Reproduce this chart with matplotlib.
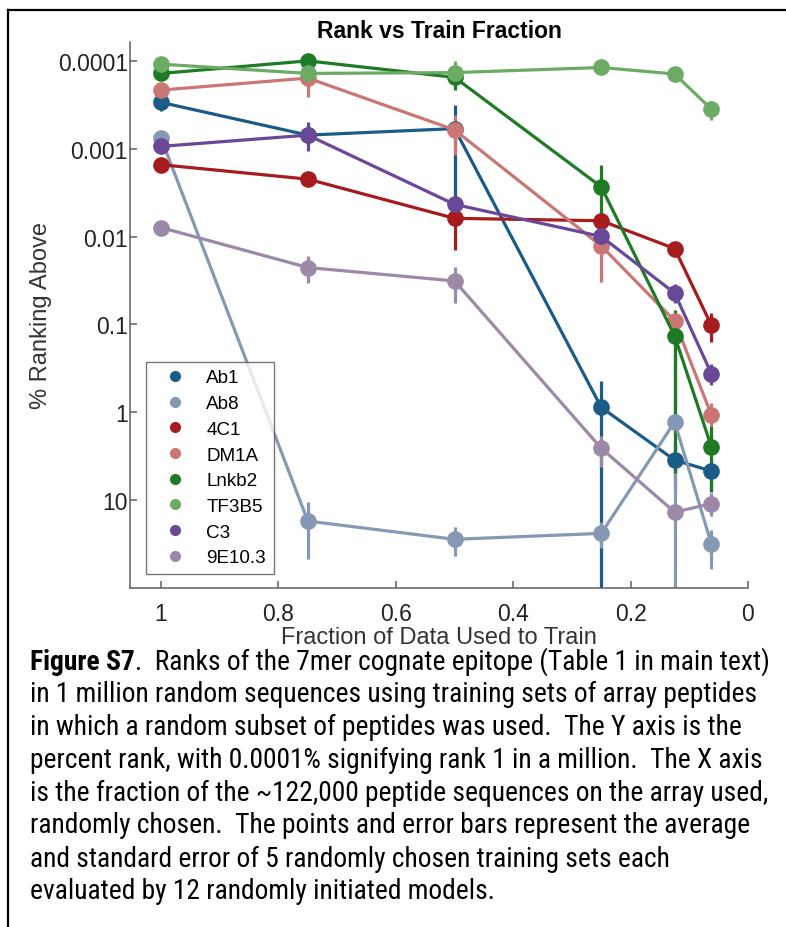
import matplotlib
matplotlib.use("Agg")
import matplotlib.pyplot as plt
from matplotlib.lines import Line2D
from matplotlib import font_manager
import numpy as np

# ---------------- data ----------------
fractions = [1, 0.75, 0.5, 0.25, 0.125, 0.0625]
series_names = ["Ab1", "Ab8", "4C1", "DM1A", "Lnkb2", "TF3B5", "C3", "9E10.3"]
series_colors = ["#1b5b88", "#8599b4", "#a51b1e", "#ca7675", "#1e7a24", "#6bab64", "#6a4898", "#9c89a7"]

ab1_mean = [2.97e-4, 7.0e-4, 5.9e-4, 0.88, 3.5, 4.66]
ab1_lo   = [2.5e-4, 5.5e-4, 3.2e-4, 0.44, 2.25, 3.28]
ab1_hi   = [3.7e-4, 9.0e-4, 4.3e-3, 1000, 7.9, 8.1]

ab8_mean = [7.6e-4, 17.3, 27.9, 23.9, 1.29, 31.3]
ab8_lo   = [6.8e-4, 10.4, 20.2, 17.7, 0.65, 21.6]
ab8_hi   = [8.5e-4, 46.3, 43.3, 35.4, 1000, 60.0]

c41_mean = [1.52e-3, 2.22e-3, 6.2e-3, 6.6e-3, 0.0137, 0.102]
c41_lo   = [1.4e-3, 2.0e-3, 4.0e-3, 5.1e-3, 0.0122, 0.075]
c41_hi   = [1.65e-3, 2.45e-3, 0.0142, 8.0e-3, 0.0155, 0.16]

dm1a_mean = [2.15e-4, 1.57e-4, 6.1e-4, 0.0128, 0.091, 1.07]
dm1a_lo   = [1.8e-4, 1.3e-4, 4.1e-4, 0.009, 0.077, 0.79]
dm1a_hi   = [2.7e-4, 2.6e-4, 1.18e-3, 0.033, 0.92, 1.43]

lnkb2_mean = [1.39e-4, 1.0e-4, 1.54e-4, 2.72e-3, 0.135, 2.46]
lnkb2_lo   = [1.3e-4, 0.92e-4, 1.2e-4, 1.54e-3, 0.069, 1.43]
lnkb2_hi   = [1.5e-4, 1.1e-4, 2.14e-4, 6.0e-3, 4.86, 7.9]

tf3b5_mean = [1.09e-4, 1.39e-4, 1.36e-4, 1.19e-4, 1.41e-4, 3.54e-4]
tf3b5_lo   = [1.0e-4, 1.25e-4, 1.0e-4, 1.05e-4, 1.25e-4, 2.9e-4]
tf3b5_hi   = [1.2e-4, 1.55e-4, 1.6e-4, 1.35e-4, 1.6e-4, 4.65e-4]

c3_mean = [9.4e-4, 7.0e-4, 4.3e-3, 9.97e-3, 0.044, 0.362]
c3_lo   = [8.5e-4, 5.0e-4, 3.7e-3, 7.5e-3, 0.035, 0.284]
c3_hi   = [1.05e-3, 1.05e-3, 5.0e-3, 0.015, 0.057, 0.49]

e9_mean = [7.9e-3, 0.0225, 0.032, 2.57, 13.7, 10.97]
e9_lo   = [7.2e-3, 0.0165, 0.022, 1.86, 12.5, 8.2]
e9_hi   = [8.7e-3, 0.034, 0.057, 4.15, 15.0, 15.1]

y_ticks = [1e-4, 1e-3, 1e-2, 1e-1, 1, 10]
y_ticklabels = ["0.0001", "0.001", "0.01", "0.1", "1", "10"]
x_ticks = [1, 0.8, 0.6, 0.4, 0.2, 0]
x_ticklabels = ["1", "0.8", "0.6", "0.4", "0.2", "0"]

title = "Rank vs Train Fraction"
xlabel = "Fraction of Data Used to Train"
ylabel = "% Ranking Above"

caption_bold = "Figure S7"
caption_lines = [
    ".  Ranks of the 7mer cognate epitope (Table 1 in main text)",
    "in 1 million random sequences using training sets of array peptides",
    "in which a random subset of peptides was used.  The Y axis is the",
    "percent rank, with 0.0001% signifying rank 1 in a million.  The X axis",
    "is the fraction of the ~122,000 peptide sequences on the array used,",
    "randomly chosen.  The points and error bars represent the average",
    "and standard error of 5 randomly chosen training sets each",
    "evaluated by 12 randomly initiated models.",
]

means = [ab1_mean, ab8_mean, c41_mean, dm1a_mean, lnkb2_mean, tf3b5_mean, c3_mean, e9_mean]
los = [ab1_lo, ab8_lo, c41_lo, dm1a_lo, lnkb2_lo, tf3b5_lo, c3_lo, e9_lo]
his = [ab1_hi, ab8_hi, c41_hi, dm1a_hi, lnkb2_hi, tf3b5_hi, c3_hi, e9_hi]

# ---------------- fonts ----------------
def has_font(name):
    try:
        font_manager.findfont(name, fallback_to_default=False)
        return True
    except Exception:
        return False

chart_font = "Liberation Sans" if has_font("Liberation Sans") else "DejaVu Sans"
cap_font = None
for f in ["Liberation Sans Narrow", "Roboto Condensed", "Lato", "Open Sans", "Noto Sans"]:
    if has_font(f):
        cap_font = f
        break
if cap_font is None:
    cap_font = "DejaVu Sans"

plt.rcParams['font.family'] = [chart_font, 'DejaVu Sans']

W, H = 786, 928
fig = plt.figure(figsize=(W / 100, H / 100), dpi=100)
fig.patch.set_facecolor("white")

ax_l, ax_r, ax_t, ax_b = 130, 748, 43, 589
ax = fig.add_axes([ax_l / W, 1 - ax_b / H, (ax_r - ax_l) / W, (ax_b - ax_t) / H])

for name, col, m, lo, hi in zip(series_names, series_colors, means, los, his):
    m = np.array(m)
    lo = np.array(lo)
    hi = np.array(hi)
    ax.errorbar(fractions, m, yerr=[m - lo, hi - m], fmt='-o', color=col,
                lw=2.3, ms=12, capsize=5.5, capthick=2.3, elinewidth=2.3,
                markeredgewidth=0, label=name)

ax.set_yscale('log')
ax.set_ylim(100, 6.1e-5)
ax.set_xlim(1.053, 0)
ax.set_yticks(y_ticks)
ax.set_yticklabels(y_ticklabels)
ax.yaxis.set_minor_locator(matplotlib.ticker.NullLocator())
ax.set_xticks(x_ticks)
ax.set_xticklabels(x_ticklabels)

spine_col = "#5f5f5f"
for s in ["top", "right"]:
    ax.spines[s].set_visible(False)
for s in ["left", "bottom"]:
    ax.spines[s].set_color(spine_col)
    ax.spines[s].set_linewidth(1.1)
ax.tick_params(axis='both', direction='in', length=5, width=1.1, color=spine_col,
               labelsize=16.5, labelcolor="#222222")
ax.tick_params(axis='y', pad=1.5)
ax.tick_params(axis='x', pad=10)

ax.set_title(title, fontsize=16.5, fontweight='bold', pad=3)
ax.set_xlabel(xlabel, fontsize=17, color="#333333", labelpad=1)
ax.set_ylabel(ylabel, fontsize=17, color="#333333", labelpad=4)

handles = [Line2D([], [], ls='none', marker='o', ms=8, color=c, markeredgewidth=0)
           for c in series_colors]
leg = ax.legend(handles, series_names, loc='lower left',
                bbox_to_anchor=(16 / 618, 14 / 546), borderaxespad=0,
                fontsize=13.6, frameon=True, fancybox=False, labelspacing=0.45,
                handletextpad=0.5, borderpad=0.4, handlelength=2.3)
leg.get_frame().set_edgecolor("#555555")
leg.get_frame().set_linewidth(1.0)

# border lines
fig.add_artist(Line2D([8 / W, 8 / W], [0, 1 - 11 / H], color='black', lw=1.6,
                      transform=fig.transFigure))
fig.add_artist(Line2D([8 / W, 1], [1 - 11 / H, 1 - 11 / H], color='black', lw=1.6,
                      transform=fig.transFigure))

# caption
renderer = fig.canvas.get_renderer()
probe = fig.text(0, 0, caption_lines[1], fontsize=10, family=cap_font)
pw = probe.get_window_extent(renderer).width
probe.remove()
cap_size = 10 * (752 - 30) / pw

x0 = 30
line_y = [662, 694, 727, 760, 793, 826, 859, 892]
tb = fig.text(x0 / W, 1 - line_y[0] / H, caption_bold, fontsize=cap_size,
              family=cap_font, fontweight='bold', va='center', ha='left')
bw = tb.get_window_extent(renderer).width
fig.text((x0 + bw) / W, 1 - line_y[0] / H, caption_lines[0], fontsize=cap_size,
         family=cap_font, va='center', ha='left')
for ln, yy in zip(caption_lines[1:], line_y[1:]):
    fig.text(x0 / W, 1 - yy / H, ln, fontsize=cap_size, family=cap_font,
             va='center', ha='left')

fig.savefig("out.png", dpi=100)
